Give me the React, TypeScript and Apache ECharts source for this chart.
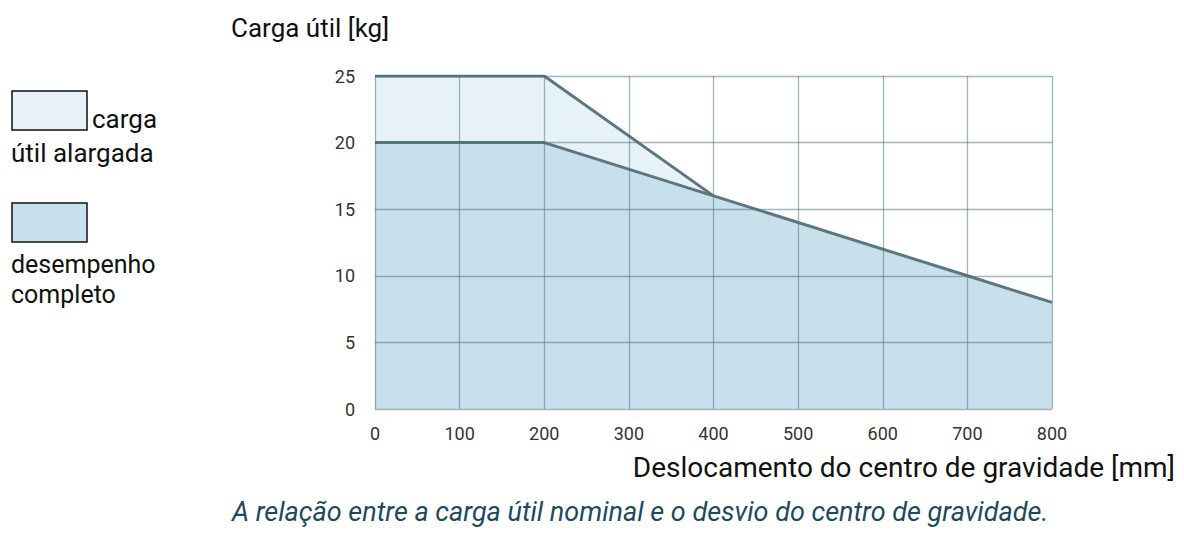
import React, { useEffect, useRef } from "react";
import * as echarts from "echarts";

const xTicks = [0, 100, 200, 300, 400, 500, 600, 700, 800];
const extendedX = [0, 200, 400];
const extendedY = [25, 25, 16];
const fullX = [0, 200, 400, 700, 800];
const fullY = [20, 20, 16, 10, 8];

const FONT = "Roboto, 'Noto Sans', sans-serif";

export default function App() {
  const ref = useRef<HTMLDivElement>(null);
  useEffect(() => {
    const chart = echarts.init(ref.current!, null, { renderer: "svg" });
    const lineColor = "#5d777c";
    const t = (text: string, x: number, y: number, size: number, extra: any = {}) => ({
      type: "text",
      x,
      y,
      style: { text, fontSize: size, fontFamily: FONT, fill: "#111", verticalAlign: "middle", align: "left", ...extra },
    });
    chart.setOption({
      animation: false,
      backgroundColor: "#ffffff",
      grid: { left: 375, right: 132, top: 76, bottom: 149, containLabel: false },
      xAxis: {
        type: "value",
        min: xTicks[0],
        max: xTicks[xTicks.length - 1],
        interval: 100,
        z: 5,
        axisLine: { show: false },
        axisTick: { show: false },
        axisLabel: { color: "#333", fontSize: 18, fontFamily: FONT, margin: 15 },
        splitLine: { show: true, lineStyle: { color: "rgba(70,110,125,0.5)", width: 1.3 } },
      },
      yAxis: {
        type: "value",
        min: 0,
        max: 25,
        interval: 5,
        z: 5,
        axisLine: { show: false },
        axisTick: { show: false },
        axisLabel: { color: "#333", fontSize: 18, fontFamily: FONT, margin: 20 },
        splitLine: { show: true, lineStyle: { color: "rgba(70,110,125,0.5)", width: 1.3 } },
      },
      series: [
        {
          type: "line",
          z: 1,
          data: extendedX.map((x, i) => [x, extendedY[i]]),
          symbol: "none",
          lineStyle: { color: lineColor, width: 3 },
          areaStyle: { color: "#e6f1f8", opacity: 1 },
        },
        {
          type: "line",
          z: 2,
          data: fullX.map((x, i) => [x, fullY[i]]),
          symbol: "none",
          lineStyle: { color: lineColor, width: 3 },
          areaStyle: { color: "#c8e0ec", opacity: 1 },
        },
      ],
      graphic: [
        t("Carga útil [kg]", 231, 28, 26),
        { type: "rect", shape: { x: 12, y: 91, width: 75, height: 39 }, style: { fill: "#e6f1f8", stroke: "#111", lineWidth: 1.5 } },
        t("carga", 92, 119, 26),
        t("útil alargada", 11, 153, 26),
        { type: "rect", shape: { x: 12, y: 203, width: 75, height: 39 }, style: { fill: "#c8e0ec", stroke: "#111", lineWidth: 1.5 } },
        t("desempenho", 11, 264, 25),
        t("completo", 11, 294, 25),
        t("Deslocamento do centro de gravidade [mm]", 1175, 467, 28, { align: "right" }),
        t("A relação entre a carga útil nominal e o desvio do centro de gravidade.", 232, 512, 27, { fontStyle: "italic", fill: "#1d4a5c" }),
      ],
    });
    return () => chart.dispose();
  }, []);
  return <div ref={ref} style={{ position: "fixed", left: 0, top: 0, width: 1184, height: 558 }} />;
}
